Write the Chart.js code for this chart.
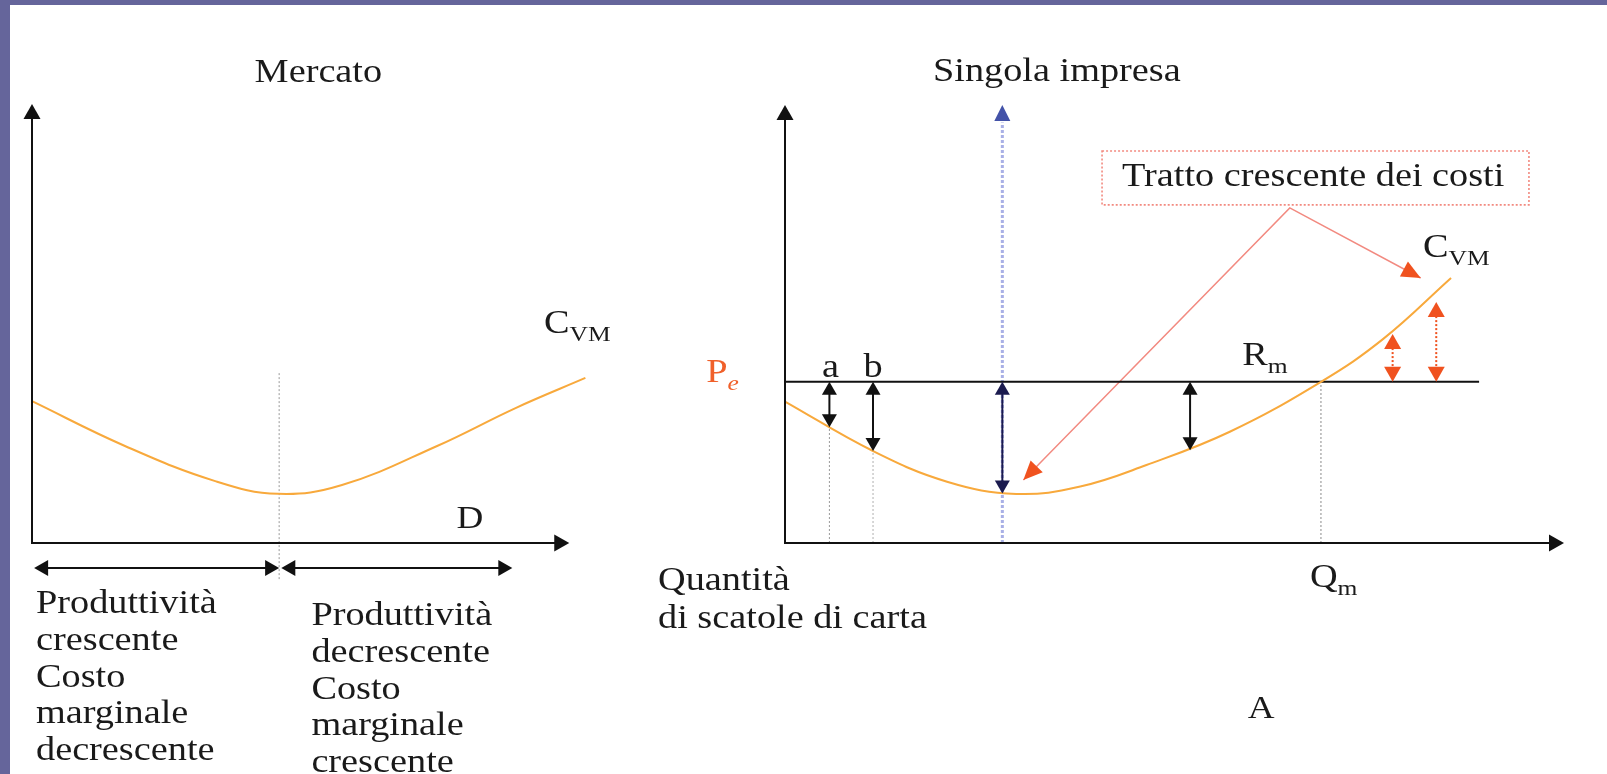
<!DOCTYPE html>
<html>
<head>
<meta charset="utf-8">
<script src="https://cdn.jsdelivr.net/npm/chart.js@4.4.1/dist/chart.umd.min.js"></script>
<style>
  html, body { margin: 0; padding: 0; background: #fff; }
  #frame { position: absolute; left: 0; top: 0; width: 1607px; height: 774px; overflow: hidden; background: #fff; }
  .band { position: absolute; background: #65659b; }
  canvas { position: absolute; left: 0; top: 0; }
</style>
</head>
<body>
<div id="frame">
  <div class="band" style="left:0;top:0;width:10px;height:774px"></div>
  <div class="band" style="left:0;top:0;width:1607px;height:5px"></div>
  <canvas id="mercato" width="1607" height="774"></canvas>
  <canvas id="impresa" width="1607" height="774"></canvas>
</div>
<script>
// ---- Mercato (pannello sinistro) ----
const mercatoQ   = [0, 17.3, 34.1, 45.8, 57.7, 75.4, 90.1, 103];
const mercatoCVM = [32.3, 22.1, 14.1, 11.2, 13.2, 22.1, 30.8, 37.6];
const mercatoQmin = 46;
const mercatoTratti = [[0.4, 46], [46.4, 89.4]];

// ---- Singola impresa (pannello destro) ----
const impresaQ   = [0, 11.3, 20.8, 29.7, 37.9, 46.4, 57.1, 68.8, 76.8, 85.5];
const impresaCVM = [32.3, 21.0, 14.0, 11.2, 12.9, 17.8, 25.4, 36.8, 46.6, 60.5];
const prezzoPe = 36.8;
const fineRm = 89.1;
const qA = 5.7, qB = 11.3, qMin = 27.9, qM = 68.8;
const frecceNereQ   = [5.7, 11.3, 52];
const frecceNereCVM = [26.4, 21.0, 21.2];
const cvmMin = 11.3;
const frecceRosseQ   = [78, 83.6];
const frecceRosseCVM = [47.7, 55.0];
const richiamoQ   = [30.6, 64.8, 81.6];
const richiamoCVM = [14.4, 76.5, 60.5];
const boxQ   = [40.7, 95.5];
const boxCVM = [77.2, 89.5];

const SX = 1.16;
const FONT = '"Liberation Serif", "Times New Roman", serif';
const INK = '#1a1a1a';

function txt(ctx, s, x, y, size, color, align, italic) {
  ctx.save();
  ctx.font = (italic ? 'italic ' : '') + size + 'px ' + FONT;
  ctx.fillStyle = color || INK;
  ctx.textAlign = align || 'left';
  ctx.textBaseline = 'alphabetic';
  ctx.translate(x, y);
  ctx.scale(SX, 1);
  ctx.fillText(s, 0, 0);
  const w = ctx.measureText(s).width * SX;
  ctx.restore();
  return w;
}

function subTxt(ctx, main, sub, x, y, color, italicSub) {
  const w = txt(ctx, main, x, y, 33, color);
  txt(ctx, sub, x + w, y + 8, 22, color, 'left', italicSub);
}

function head(ctx, x, y, ang, len, wid, col) {
  ctx.save();
  ctx.translate(x, y);
  ctx.rotate(ang);
  ctx.beginPath();
  ctx.moveTo(0, 0);
  ctx.lineTo(-len, wid / 2);
  ctx.lineTo(-len, -wid / 2);
  ctx.closePath();
  ctx.fillStyle = col;
  ctx.fill();
  ctx.restore();
}

function line(ctx, x1, y1, x2, y2, col, w, dash) {
  ctx.save();
  ctx.beginPath();
  ctx.moveTo(x1, y1);
  ctx.lineTo(x2, y2);
  ctx.strokeStyle = col;
  ctx.lineWidth = w;
  ctx.setLineDash(dash || []);
  ctx.stroke();
  ctx.restore();
}

// freccia verticale con due punte
function doppiaV(ctx, x, yTop, yBot, col, shaftCol, dash, len, wid) {
  line(ctx, x, yTop + len - 1, x, yBot - len + 1, shaftCol || col, 2, dash);
  head(ctx, x, yTop, -Math.PI / 2, len, wid, col);
  head(ctx, x, yBot, Math.PI / 2, len, wid, col);
}

function assi(ctx, xs, ys) {
  const x0 = xs.getPixelForValue(0), y0 = ys.getPixelForValue(0);
  const xe = xs.getPixelForValue(100), ye = ys.getPixelForValue(100);
  line(ctx, x0, y0, x0, ye + 12, '#111', 2);
  head(ctx, x0, ye, -Math.PI / 2, 15, 17, '#111');
  line(ctx, x0 - 1, y0, xe - 12, y0, '#111', 2);
  head(ctx, xe, y0, 0, 15, 17, '#111');
}

const baseOptions = (pad, xMax) => ({
  responsive: false,
  animation: false,
  devicePixelRatio: 1,
  layout: { padding: pad },
  plugins: { legend: { display: false }, tooltip: { enabled: false } },
  scales: {
    x: { type: 'linear', min: 0, max: xMax, display: false },
    y: { type: 'linear', min: 0, max: 100, display: false }
  },
  elements: { point: { radius: 0 } }
});

const pts = (xs, ys) => xs.map((x, i) => ({ x: x, y: ys[i] }));

// ---------- grafico sinistro ----------
const mercatoDecor = {
  id: 'mercatoDecor',
  afterDatasetsDraw(chart) {
    const ctx = chart.ctx, xs = chart.scales.x, ys = chart.scales.y;
    assi(ctx, xs, ys);
    txt(ctx, 'Mercato', xs.getPixelForValue(53.3), ys.getPixelForValue(100) - 22, 33, INK, 'center');
    subTxt(ctx, 'C', 'VM', xs.getPixelForValue(95.3), ys.getPixelForValue(47.8));
    txt(ctx, 'D', xs.getPixelForValue(79), ys.getPixelForValue(0) - 15, 32);

    const yA = ys.getPixelForValue(0) + 25;
    mercatoTratti.forEach(t => {
      const x1 = xs.getPixelForValue(t[0]), x2 = xs.getPixelForValue(t[1]);
      line(ctx, x1 + 12, yA, x2 - 12, yA, '#111', 2);
      head(ctx, x1, yA, Math.PI, 14, 16, '#111');
      head(ctx, x2, yA, 0, 14, 16, '#111');
    });

    const xl = xs.getPixelForValue(0) + 4, xr = xs.getPixelForValue(52);
    const sinistra = ['Produttività', 'crescente', 'Costo', 'marginale', 'decrescente'];
    const destra = ['Produttività', 'decrescente', 'Costo', 'marginale', 'crescente'];
    sinistra.forEach((s, i) => txt(ctx, s, xl, 613 + i * 36.8, 33));
    destra.forEach((s, i) => txt(ctx, s, xr, 625 + i * 36.8, 33));
  }
};

new Chart(document.getElementById('mercato'), {
  type: 'scatter',
  data: {
    datasets: [
      {
        data: pts(mercatoQ, mercatoCVM), showLine: true, borderColor: '#f8a93c',
        borderWidth: 2, tension: 0.4, clip: false
      },
      {
        data: [{ x: mercatoQmin, y: 38.7 }, { x: mercatoQmin, y: -8.4 }], showLine: true,
        borderColor: '#9a9a9a', borderWidth: 1, borderDash: [2, 2], clip: false
      }
    ]
  },
  options: baseOptions({ left: 32, right: 984, top: 104, bottom: 231 }, 110),
  plugins: [mercatoDecor]
});

// ---------- grafico destro ----------
const impresaDecor = {
  id: 'impresaDecor',
  afterDatasetsDraw(chart) {
    const ctx = chart.ctx, xs = chart.scales.x, ys = chart.scales.y;
    const X = v => xs.getPixelForValue(v), Y = v => ys.getPixelForValue(v);
    assi(ctx, xs, ys);

    // freccia blu in cima
    head(ctx, X(qMin), Y(100), -Math.PI / 2, 16, 16, '#4352a8');

    // frecce nere
    frecceNereQ.forEach((q, i) => doppiaV(ctx, X(q), Y(prezzoPe), Y(frecceNereCVM[i]), '#111', null, null, 13, 15));
    doppiaV(ctx, X(qMin), Y(prezzoPe), Y(cvmMin), '#1b1b4f', null, null, 13, 15);

    // frecce rosse
    frecceRosseQ.forEach((q, i) => doppiaV(ctx, X(q), Y(frecceRosseCVM[i]), Y(prezzoPe), '#f0521f', '#f0521f', [2, 2], 15, 17));

    // richiamo
    ctx.save();
    ctx.strokeStyle = '#f28a80';
    ctx.lineWidth = 1.6;
    ctx.setLineDash([2, 2]);
    ctx.strokeRect(X(boxQ[0]), Y(boxCVM[1]), X(boxQ[1]) - X(boxQ[0]), Y(boxCVM[0]) - Y(boxCVM[1]));
    ctx.restore();
    const ax = X(richiamoQ[1]), ay = Y(richiamoCVM[1]);
    [0, 2].forEach(i => {
      const tx = X(richiamoQ[i]), ty = Y(richiamoCVM[i]);
      head(ctx, tx, ty, Math.atan2(ty - ay, tx - ax), 19, 17, '#f0521f');
    });
    txt(ctx, 'Tratto crescente dei costi', X(boxQ[0]) + 20, Y(boxCVM[1]) + 35, 33);

    // testi
    txt(ctx, 'Singola impresa', X(34.9), Y(100) - 24, 33, INK, 'center');
    subTxt(ctx, 'P', 'e', X(-10.1), Y(prezzoPe), '#f0602a', true);
    txt(ctx, 'a', X(qA) + 1, Y(prezzoPe) - 5, 33, INK, 'center');
    txt(ctx, 'b', X(qB), Y(prezzoPe) - 5, 33, INK, 'center');
    subTxt(ctx, 'R', 'm', X(58.7), Y(prezzoPe) - 17);
    subTxt(ctx, 'C', 'VM', X(81.9), Y(65.4));
    subTxt(ctx, 'Q', 'm', X(qM) - 11, Y(0) + 44);
    txt(ctx, 'Quantità', X(-16.3), Y(0) + 47, 33);
    txt(ctx, 'di scatole di carta', X(-16.3), Y(0) + 85, 33);
    txt(ctx, 'A', X(59.4), Y(0) + 175, 32);
  }
};

new Chart(document.getElementById('impresa'), {
  type: 'scatter',
  data: {
    datasets: [
      {
        data: pts(impresaQ, impresaCVM), showLine: true, borderColor: '#f8a93c',
        borderWidth: 2, tension: 0.4, clip: false
      },
      {
        data: [{ x: 0, y: prezzoPe }, { x: fineRm, y: prezzoPe }], showLine: true,
        borderColor: '#111', borderWidth: 2, clip: false
      },
      {
        data: [{ x: qA, y: 0 }, { x: qA, y: frecceNereCVM[0] }], showLine: true,
        borderColor: '#9a9a9a', borderWidth: 1, borderDash: [2, 2], clip: false
      },
      {
        data: [{ x: qB, y: 0 }, { x: qB, y: frecceNereCVM[1] }], showLine: true,
        borderColor: '#b0b0b0', borderWidth: 1, borderDash: [2, 2], clip: false
      },
      {
        data: [{ x: qM, y: 0 }, { x: qM, y: prezzoPe }], showLine: true,
        borderColor: '#8a8a8a', borderWidth: 1, borderDash: [2, 2], clip: false
      },
      {
        data: [{ x: qMin, y: 0 }, { x: qMin, y: 96 }], showLine: true,
        borderColor: '#a9b0e6', borderWidth: 3, borderDash: [3, 2], clip: false
      },
      {
        data: pts(richiamoQ, richiamoCVM), showLine: true,
        borderColor: '#f28a80', borderWidth: 1.5, tension: 0, clip: false
      }
    ]
  },
  options: baseOptions({ left: 785, right: 43, top: 105, bottom: 231 }, 100),
  plugins: [impresaDecor]
});
</script>
</body>
</html>
